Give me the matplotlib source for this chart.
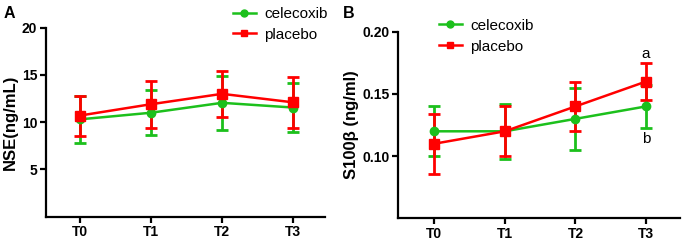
import matplotlib
matplotlib.use("agg")
import matplotlib.pyplot as plt
from matplotlib.lines import Line2D

plt.rcParams["font.family"] = ["Liberation Sans", "DejaVu Sans"]

timepoints = ["T0", "T1", "T2", "T3"]

# panel A: NSE (ng/mL)
nse_celecoxib = [10.3, 11.0, 12.05, 11.55]
nse_celecoxib_lo = [7.8, 8.65, 9.15, 8.95]
nse_celecoxib_hi = [12.8, 13.4, 14.9, 14.1]
nse_placebo = [10.7, 11.9, 13.0, 12.1]
nse_placebo_lo = [8.55, 9.4, 10.6, 9.35]
nse_placebo_hi = [12.8, 14.35, 15.45, 14.8]

# panel B: S100beta (ng/ml)
s100_celecoxib = [0.12, 0.12, 0.13, 0.14]
s100_celecoxib_lo = [0.10, 0.098, 0.105, 0.123]
s100_celecoxib_hi = [0.14, 0.142, 0.155, 0.157]
s100_placebo = [0.11, 0.12, 0.14, 0.16]
s100_placebo_lo = [0.086, 0.10, 0.12, 0.145]
s100_placebo_hi = [0.134, 0.14, 0.16, 0.175]

GREEN = "#1cc01c"
RED = "#ff0000"

fig = plt.figure(figsize=(6.86, 2.41), dpi=100)
axA = fig.add_axes([0.0666, 0.101, 0.4074, 0.784])
axB = fig.add_axes([0.5806, 0.094, 0.4104, 0.774])


def draw(ax, mean, lo, hi, color, marker, ms):
    x = list(range(len(mean)))
    yerr = [[m - l for m, l in zip(mean, lo)], [h - m for m, h in zip(mean, hi)]]
    ax.errorbar(x, mean, yerr=yerr, color=color, marker=marker, markersize=ms,
                linewidth=1.8, elinewidth=2, capsize=4.5, capthick=2)


def style(ax, ylabel):
    for s in ["top", "right"]:
        ax.spines[s].set_visible(False)
    for s in ["left", "bottom"]:
        ax.spines[s].set_linewidth(1.6)
    ax.tick_params(width=1.6, length=4, labelsize=10, pad=2)
    ax.set_xticks(range(4))
    ax.set_xticklabels(timepoints, fontweight="bold")
    for t in ax.get_yticklabels():
        t.set_fontweight("bold")
    ax.set_ylabel(ylabel, fontweight="bold", fontsize=12, labelpad=3)


def legend(ax, x, y):
    handles = [Line2D([], [], color=GREEN, marker="o", markersize=5, linewidth=1.8),
               Line2D([], [], color=RED, marker="s", markersize=5, linewidth=1.8)]
    ax.legend(handles, ["celecoxib", "placebo"], loc="upper left",
              bbox_to_anchor=(x, y), frameon=False, fontsize=11,
              handlelength=1.5, handletextpad=0.55, labelspacing=0.45,
              borderaxespad=0, borderpad=0)


draw(axA, nse_celecoxib, nse_celecoxib_lo, nse_celecoxib_hi, GREEN, "o", 6)
draw(axA, nse_placebo, nse_placebo_lo, nse_placebo_hi, RED, "s", 6.5)
axA.set_xlim(-0.48, 3.45)
axA.set_ylim(0, 20)
axA.set_yticks([5, 10, 15, 20])
style(axA, "NSE(ng/mL)")
legend(axA, 0.67, 1.11)

draw(axB, s100_celecoxib, s100_celecoxib_lo, s100_celecoxib_hi, GREEN, "o", 6)
draw(axB, s100_placebo, s100_placebo_lo, s100_placebo_hi, RED, "s", 6.5)
axB.set_xlim(-0.51, 3.48)
axB.set_ylim(0.05, 0.20)
axB.set_yticks([0.10, 0.15, 0.20])
axB.set_yticklabels(["0.10", "0.15", "0.20"])
style(axB, "S100β (ng/ml)")
legend(axB, 0.1445, 1.07)
axB.text(3, 0.1825, "a", ha="center", va="center", fontsize=11)
axB.text(3, 0.1142, "b", ha="center", va="center", fontsize=11)

fig.text(0.005, 0.945, "A", fontweight="bold", fontsize=11.5, va="center")
fig.text(0.5, 0.945, "B", fontweight="bold", fontsize=11.5, va="center")

fig.savefig("out.png", dpi=100)
